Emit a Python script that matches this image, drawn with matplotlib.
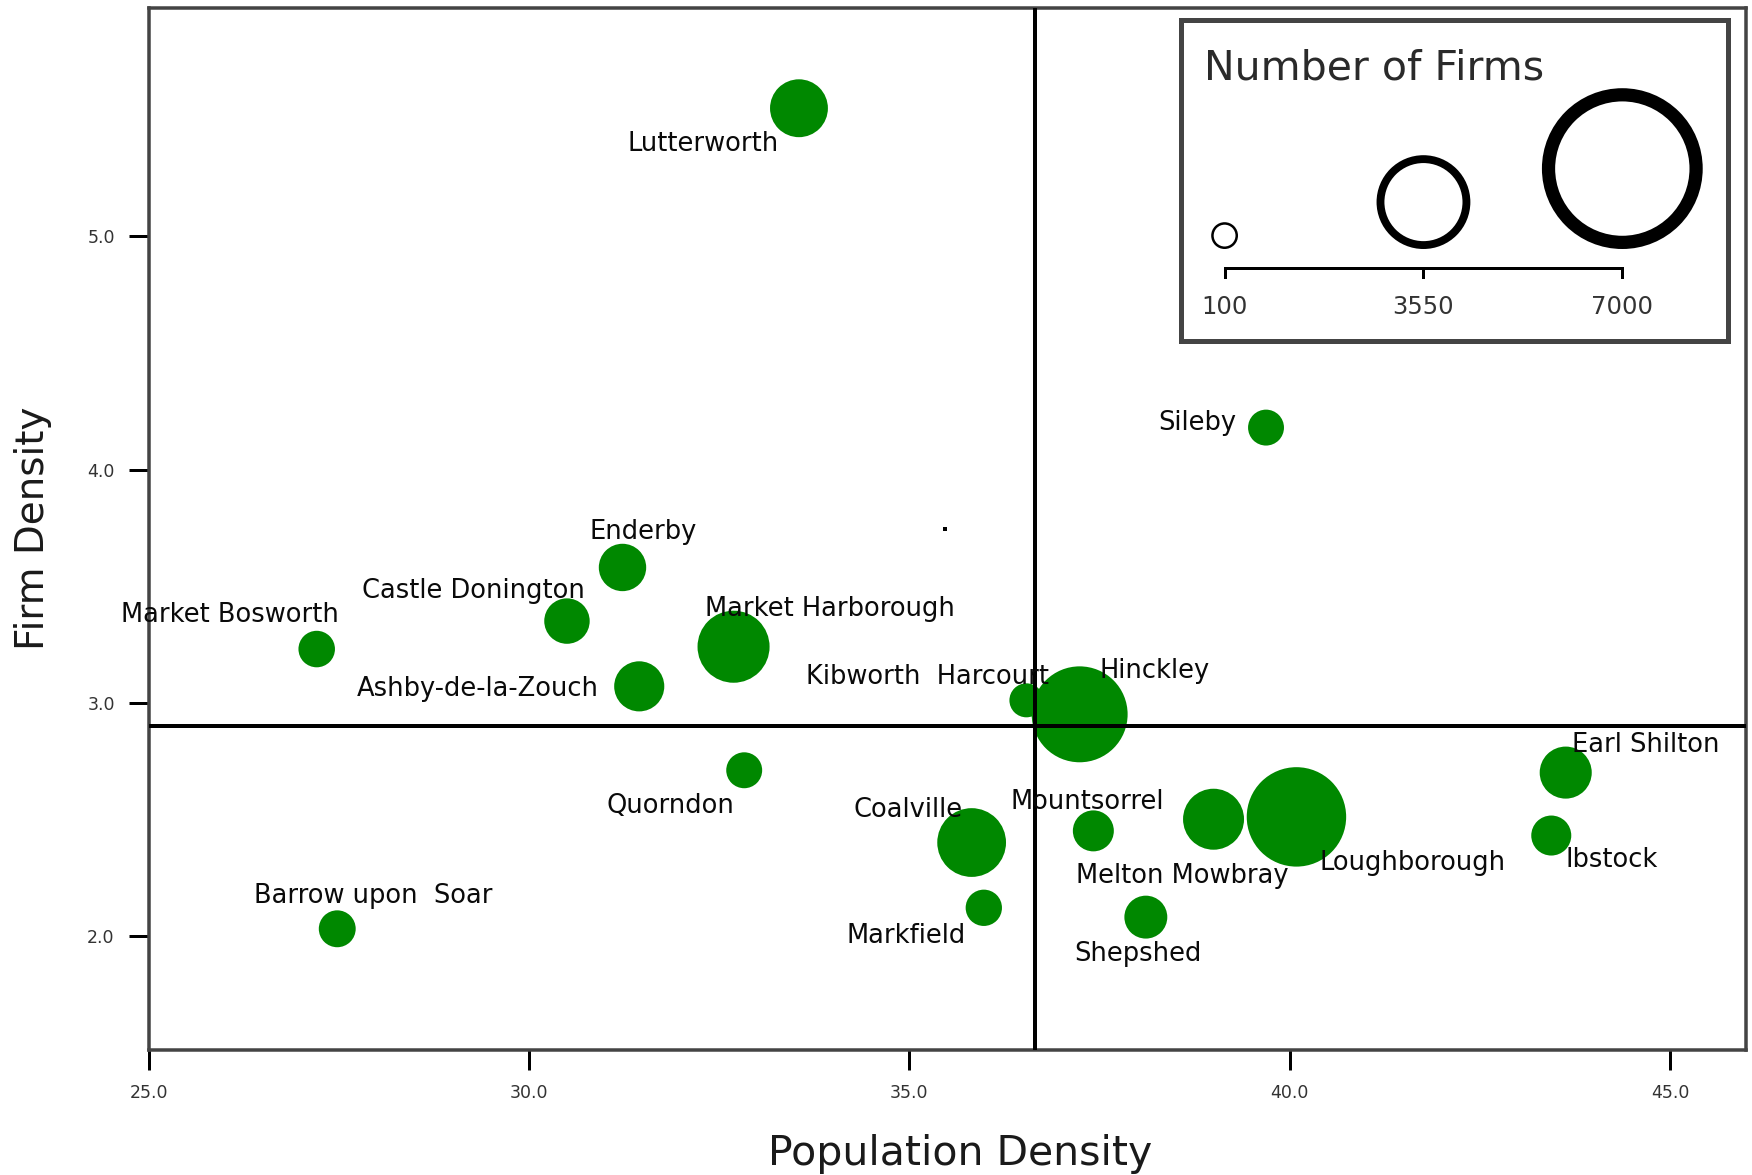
import matplotlib
matplotlib.use("Agg")
import matplotlib.pyplot as plt
from matplotlib.patches import Circle

# ---------------- data ----------------
towns = ["Lutterworth", "Sileby", "Enderby", "Castle Donington", "Market Bosworth",
         "Market Harborough", "Ashby-de-la-Zouch", "Kibworth  Harcourt", "Hinckley",
         "Quorndon", "Coalville", "Mountsorrel", "Melton Mowbray", "Loughborough",
         "Earl Shilton", "Ibstock", "Markfield", "Shepshed", "Barrow upon  Soar"]
pop_density = [33.55, 39.69, 31.23, 30.50, 27.21,
               32.69, 31.45, 36.54, 37.24,
               32.83, 35.82, 37.42, 39.00, 40.09,
               43.63, 43.44, 35.98, 38.11, 27.48]
firm_density = [5.55, 4.18, 3.58, 3.35, 3.23,
                3.24, 3.07, 3.01, 2.95,
                2.71, 2.40, 2.45, 2.50, 2.51,
                2.70, 2.43, 2.12, 2.08, 2.03]
firms = [1700, 570, 1160, 1060, 600,
         2430, 1300, 470, 3660,
         570, 2260, 830, 1860, 3840,
         1400, 780, 590, 930, 620]
legend_values = [100, 3550, 7000]
x_ticks = [25.0, 30.0, 35.0, 40.0, 45.0]
y_ticks = [2.0, 3.0, 4.0, 5.0]
mean_pop_density = 36.65
mean_firm_density = 2.90
stray_point = (35.47, 3.747)

# ---------------- layout / style ----------------
W, H, DPI = 1752, 1175, 100
PT = 72.0 / DPI          # points per pixel
GREEN = "#008800"

# label offsets from bubble centre (pixels, +y down)
label_offsets = {
    "Lutterworth": (-171, 36), "Sileby": (-108, -5), "Enderby": (-33, -35),
    "Castle Donington": (-205, -30), "Market Bosworth": (-196, -34),
    "Market Harborough": (-29, -38), "Ashby-de-la-Zouch": (-282, 3),
    "Kibworth  Harcourt": (-220, -23), "Hinckley": (20, -43),
    "Quorndon": (-138, 36), "Coalville": (-118, -33), "Mountsorrel": (-83, -29),
    "Melton Mowbray": (-138, 57), "Loughborough": (23, 46),
    "Earl Shilton": (6, -28), "Ibstock": (14, 24), "Markfield": (-137, 28),
    "Shepshed": (-72, 37), "Barrow upon  Soar": (-83, -33),
}


def radius_px(v):
    return 13.4 + (v - 100) * 0.00971


fig = plt.figure(figsize=(W / DPI, H / DPI), dpi=DPI)
fig.patch.set_facecolor("white")

ax_l, ax_r, ax_t, ax_b = 148.6, 1746, 8, 1050
ax = fig.add_axes([ax_l / W, 1 - ax_b / H, (ax_r - ax_l) / W, (ax_b - ax_t) / H])
ax.set_xlim(25.0, 46.0)
ax.set_ylim(1.51, 5.98)

sizes = [(2 * radius_px(v) * PT) ** 2 for v in firms]
ax.scatter(pop_density, firm_density, s=sizes, color=GREEN, linewidths=0, zorder=2)
ax.scatter([stray_point[0]], [stray_point[1]], s=(4 * PT) ** 2, marker="s",
           color="black", linewidths=0, zorder=3)

ax.axhline(mean_firm_density, color="black", lw=4 * PT, zorder=3)
ax.axvline(mean_pop_density, color="black", lw=4 * PT, zorder=3)

for name, x, y in zip(towns, pop_density, firm_density):
    dx, dy = label_offsets[name]
    ax.annotate(name, (x, y), xytext=(dx * PT, -dy * PT), textcoords="offset points",
                ha="left", va="center", fontsize=18.5, color="#0a0a0a",
                family="DejaVu Sans", zorder=4)

ax.set_xticks(x_ticks)
ax.set_xticklabels([f"{t:.1f}" for t in x_ticks])
ax.set_yticks(y_ticks)
ax.set_yticklabels([f"{t:.1f}" for t in y_ticks])
ax.tick_params(axis="both", direction="out", length=20 * PT, width=3 * PT,
               color="black", labelsize=12.5, labelcolor="#333333", pad=10)
for sp in ax.spines.values():
    sp.set_color("#444444")
    sp.set_linewidth(3.5 * PT)

fig.text(960 / W, 1 - 1154 / H, "Population Density", ha="center", va="center",
         fontsize=29.5, color="#1a1a1a")
fig.text(33 / W, 1 - 528 / H, "Firm Density", ha="center", va="center",
         rotation=90, fontsize=28, color="#1a1a1a")

# ---------------- size legend (pixel coordinates) ----------------
lx0, ly0, lx1, ly1 = 1181, 20, 1728, 341
lax = fig.add_axes([lx0 / W, 1 - ly1 / H, (lx1 - lx0) / W, (ly1 - ly0) / H])
lax.set_xlim(lx0, lx1)
lax.set_ylim(ly1, ly0)
lax.set_xticks([])
lax.set_yticks([])
lax.set_facecolor("white")
for sp in lax.spines.values():
    sp.set_color("#444444")
    sp.set_linewidth(5 * PT)

lax.text(1204, 68, "Number of Firms", ha="left", va="center", fontsize=29.5,
         color="#2a2a2a")


def leg_x(v):
    return 1224.6 + (v - 100) * 0.05764


base_y = 249
line_y = 268
lax.plot([leg_x(legend_values[0]), leg_x(legend_values[-1])], [line_y, line_y],
         color="black", lw=3 * PT)
for v in legend_values:
    r = radius_px(v)
    lw = 2.5 + (r - 13.4) * 0.16
    cx = leg_x(v)
    lax.add_patch(Circle((cx, base_y - r), r - lw / 2, fill=False, edgecolor="black",
                         linewidth=lw * PT))
    lax.plot([cx, cx], [line_y, line_y + 9], color="black", lw=3 * PT)
    lax.text(cx, 307, f"{v}", ha="center", va="center", fontsize=17.5, color="#333333")

fig.savefig("out.png", dpi=DPI)
